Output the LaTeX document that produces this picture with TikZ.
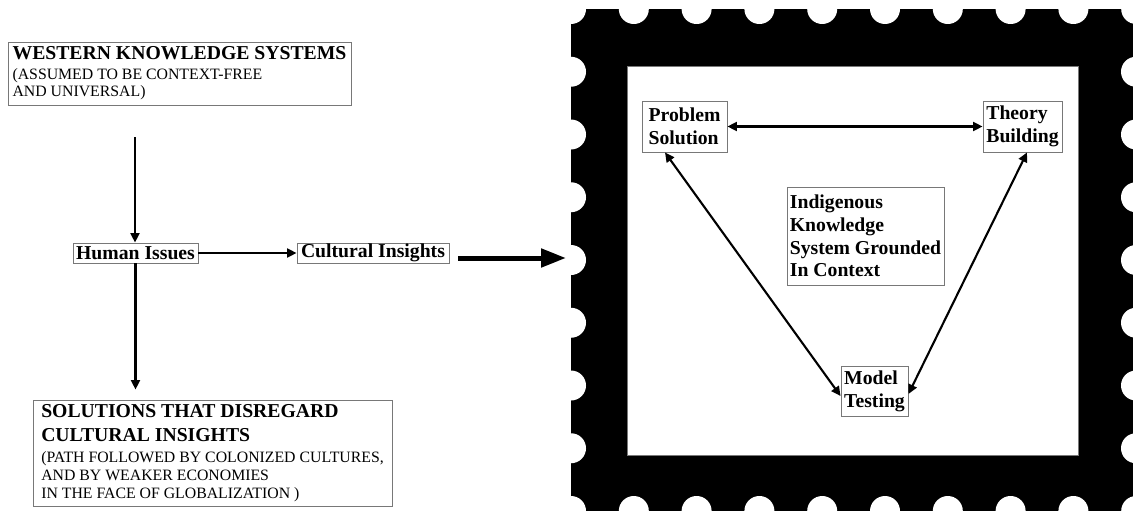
\documentclass[tikz,border=0pt]{standalone}
\usepackage{fontspec}
\setmainfont{Liberation Serif}
\usetikzlibrary{arrows.meta}
\newcommand\myB{\fontsize{19.7}{22.7}\selectfont\bfseries}
\newcommand\myR{\fontsize{15.8}{17.6}\selectfont\mdseries}
\definecolor{boxgray}{RGB}{120,120,120}
\tikzset{
  box/.style={draw=boxgray, line width=0.9pt, fill=white, align=left, inner xsep=2pt, inner ysep=0pt, text=black},
  arr/.style={line width=2.1pt, -{Triangle[length=9.5pt,width=9pt]}},
  darr/.style={line width=2.1pt, {Triangle[length=9.5pt,width=9pt]}-{Triangle[length=9.5pt,width=9pt]}},
  bigarr/.style={line width=5pt, -{Triangle[length=25pt,width=18pt]}},
}
\begin{document}
\begin{tikzpicture}[x=1pt,y=-1pt]
\clip (0,0) rectangle (1133,511);
\fill[white] (0,0) rectangle (1133,511);
% stamp
\fill[black] (571,9) rectangle (1136,511);
\foreach \k in {0,...,9}{
  \fill[white] ({571+62.8*\k},9) circle (15);
  \fill[white] ({571+62.8*\k},511) circle (15);
}
\foreach \j in {1,...,7}{
  \fill[white] (571,{9+62.75*\j}) circle (15);
  \fill[white] (1136,{9+62.75*\j}) circle (15);
}
\filldraw[fill=white, draw=boxgray, line width=0.9pt] (627,66) rectangle (1078,455);

% left nodes
\node[box, minimum width=343pt, minimum height=63pt, font=\myR] (west) at (179.5,73.5)
  {{\myB WESTERN KNOWLEDGE SYSTEMS}\\[1.5pt](ASSUMED TO BE CONTEXT-FREE\\AND UNIVERSAL)};
\node[box, minimum width=125pt, minimum height=20pt, font=\myB] (human) at (135.5,253) {Human Issues};
\node[box, minimum width=152pt, minimum height=20pt, font=\myB] (cult) at (373,253) {Cultural Insights};
\node[box, minimum width=359pt, minimum height=106pt, font=\myR] (sol) at (212.5,453)
  {{\myB SOLUTIONS THAT DISREGARD}\\[6pt]{\myB CULTURAL INSIGHTS}\\[4pt](PATH FOLLOWED BY COLONIZED CULTURES,\\AND BY WEAKER ECONOMIES\\IN THE FACE OF GLOBALIZATION )};

% stamp nodes
\node[box, minimum width=85pt, minimum height=51pt, font=\myB] (prob) at (684.5,126.5) {Problem\\Solution};
\node[box, minimum width=79pt, minimum height=51pt, font=\myB] (theo) at (1022.5,126.5) {Theory\\Building};
\node[box, minimum width=157pt, minimum height=98pt, font=\myB] (ind) at (865.5,236) {Indigenous\\Knowledge\\System Grounded\\In Context};
\node[box, minimum width=67pt, minimum height=50pt, font=\myB] (model) at (874.5,391) {Model\\Testing};

% connectors
\coordinate (wstart) at (135,137);
\coordinate (stampin) at (566,258);
\draw[arr] (wstart) -- (wstart |- human.north);
\draw[arr] (human.east) -- (cult.west);
\draw[arr, shorten >=10pt] (human.south) -- (human.south |- sol.north);
\draw[bigarr, shorten <=9pt] (cult.east |- stampin) -- (stampin);
\draw[darr] (prob.east) -- (theo.west);
\draw[darr] ([xshift=-19.5pt]prob.south) -- ([yshift=-5pt]model.west);
\draw[darr] ([xshift=4.5pt]theo.south) -- ([yshift=-3pt]model.east);
\end{tikzpicture}
\end{document}
